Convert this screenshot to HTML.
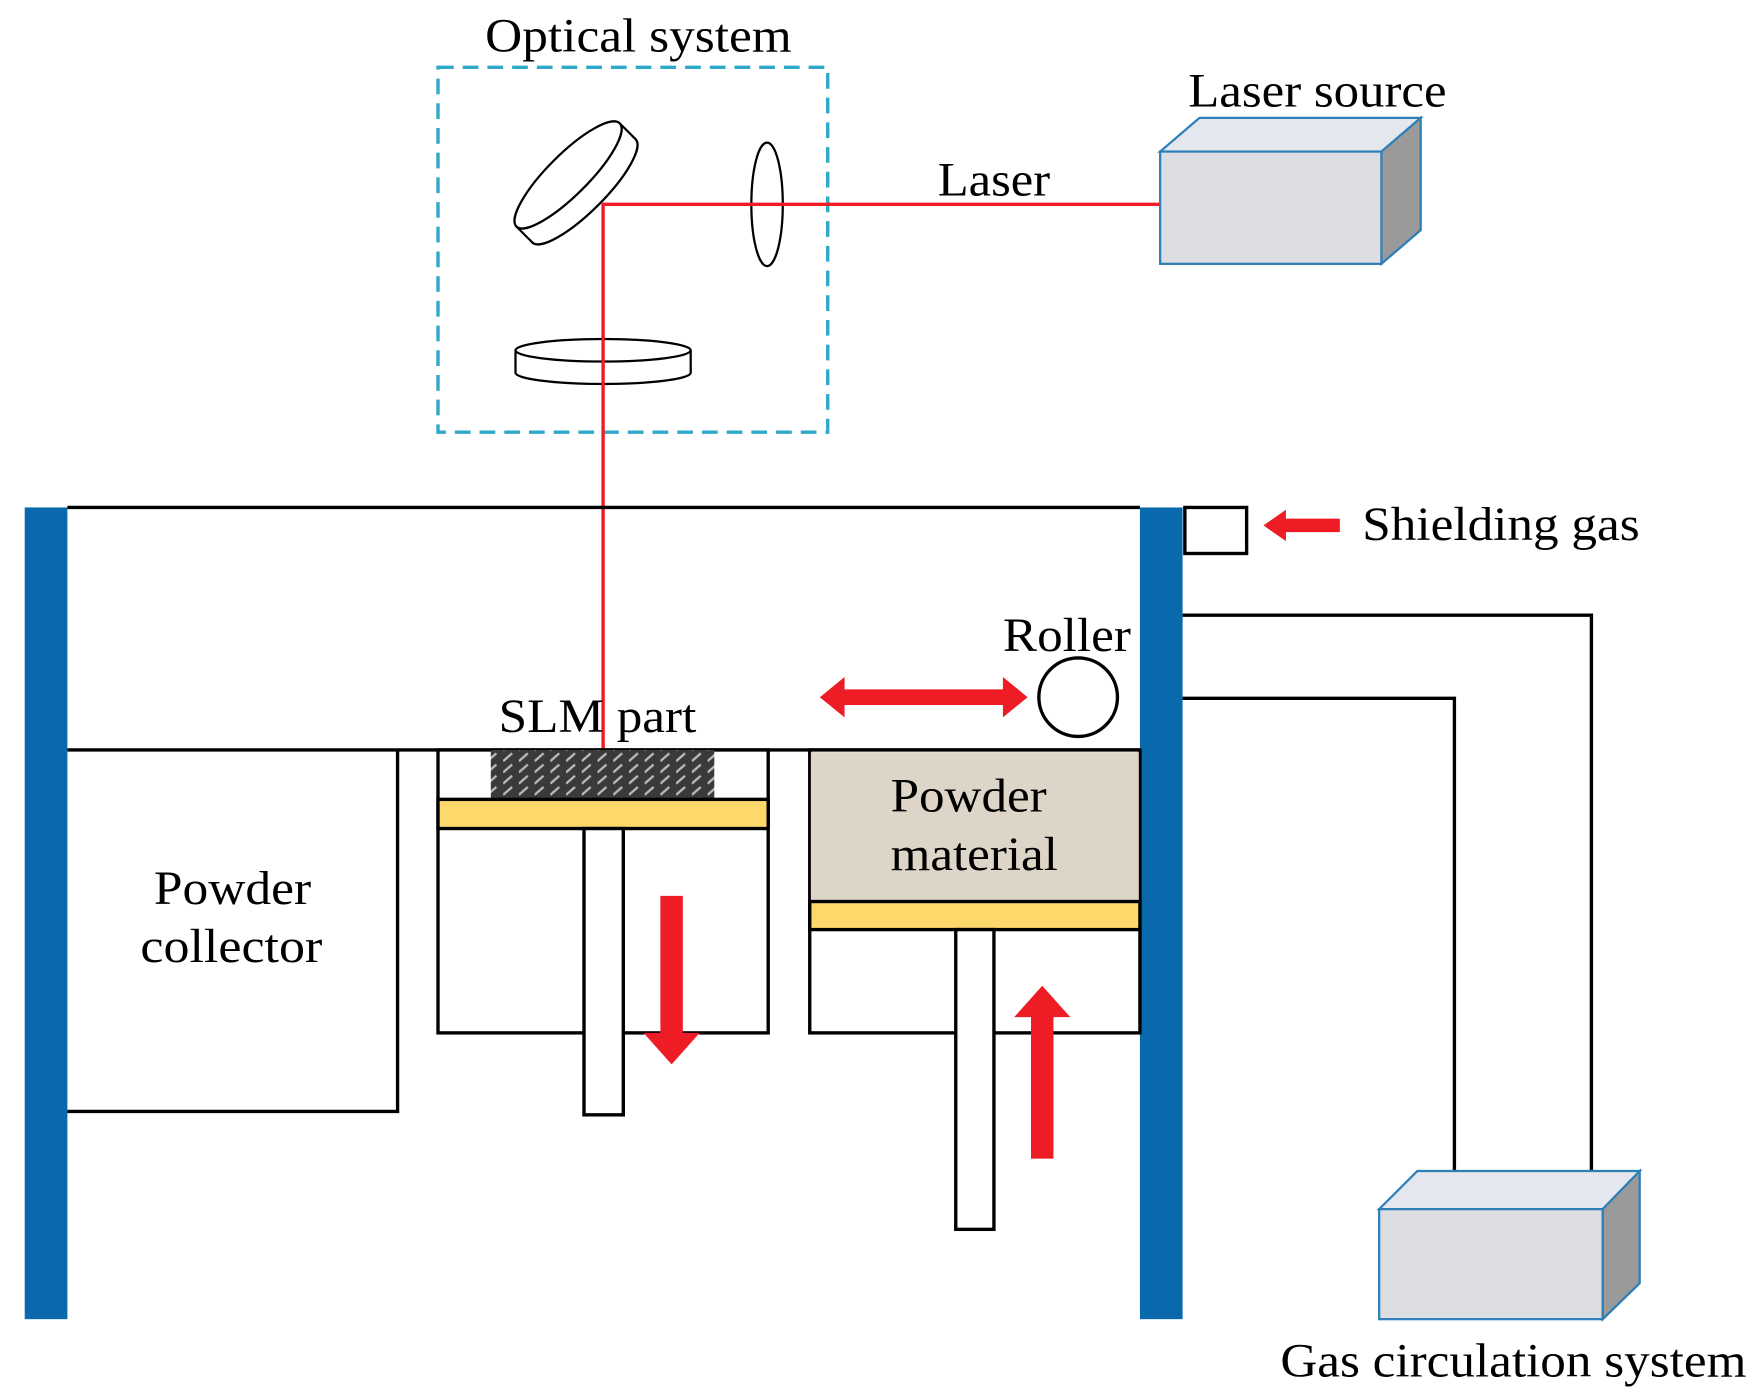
<!DOCTYPE html>
<html><head><meta charset="utf-8"><style>html,body{margin:0;padding:0;background:#fff}svg{display:block}</style></head>
<body>
<svg width="1761" height="1400" viewBox="0 0 1568 1247" preserveAspectRatio="none" xmlns="http://www.w3.org/2000/svg" font-family="Liberation Serif, serif" font-size="42">
<defs>
<pattern id="p" width="14" height="10" patternUnits="userSpaceOnUse">
<rect width="14" height="10" fill="#3a3a3a"/>
<path d="M0 8 L8 1" stroke="#bbb" stroke-width="2"/>
</pattern>
</defs>
<text x="432" y="46" textLength="273" lengthAdjust="spacingAndGlyphs">Optical system</text>
<rect x="390" y="60" width="347" height="325" fill="none" stroke="#2ea9c9" stroke-width="3" stroke-dasharray="14,8"/>
<!-- mirror -->
<g transform="rotate(-45 515 165)">
<rect x="450" y="152" width="130" height="20" fill="#fff" stroke="#000" stroke-width="2"/>
<ellipse cx="515" cy="172" rx="65" ry="18" fill="#fff" stroke="#000" stroke-width="2"/>
<rect x="451" y="153" width="128" height="19" fill="#fff"/>
<ellipse cx="515" cy="152" rx="65" ry="18" fill="#fff" stroke="#000" stroke-width="2"/>
</g>
<!-- lens -->
<ellipse cx="683" cy="182" rx="14" ry="55" fill="#fff" stroke="#000" stroke-width="2"/>
<!-- lower disk -->
<ellipse cx="537" cy="332" rx="78" ry="10" fill="#fff" stroke="#000" stroke-width="2"/>
<rect x="459" y="312" width="156" height="20" fill="#fff" stroke="none"/>
<line x1="459" y1="312" x2="459" y2="332" stroke="#000" stroke-width="2"/>
<line x1="615" y1="312" x2="615" y2="332" stroke="#000" stroke-width="2"/>
<ellipse cx="537" cy="312" rx="78" ry="10" fill="#fff" stroke="#000" stroke-width="2"/>
<!-- laser -->
<polyline points="1033,182 537,182 537,668" fill="none" stroke="#ee1c24" stroke-width="3"/>
<text x="835" y="174" textLength="100" lengthAdjust="spacingAndGlyphs">Laser</text>
<!-- laser source -->
<text x="1058" y="95" textLength="230" lengthAdjust="spacingAndGlyphs">Laser source</text>
<polygon points="1033,135 1068,105 1265,105 1230,135" fill="#e4e8ee" stroke="#2e7fb8" stroke-width="2"/>
<polygon points="1230,135 1265,105 1265,205 1230,235" fill="#9a9a9a" stroke="#2e7fb8" stroke-width="2"/>
<rect x="1033" y="135" width="197" height="100" fill="#dcdde0" stroke="#2e7fb8" stroke-width="2"/>
<!-- chamber -->
<line x1="60" y1="452" x2="1015" y2="452" stroke="#000" stroke-width="3"/>
<line x1="60" y1="668" x2="1015" y2="668" stroke="#000" stroke-width="3"/>
<rect x="22" y="452" width="38" height="723" fill="#0a69ad"/>
<rect x="1015" y="452" width="38" height="723" fill="#0a69ad"/>
<rect x="1055" y="452" width="55" height="41" fill="#fff" stroke="#000" stroke-width="3"/>
<polygon points="1125,468 1145,454 1145,462 1193,462 1193,474 1145,474 1145,482" fill="#ee1c24"/>
<text x="1213" y="481" textLength="247" lengthAdjust="spacingAndGlyphs">Shielding gas</text>
<polyline points="1053,548 1417,548 1417,1045" fill="none" stroke="#000" stroke-width="3"/>
<polyline points="1053,622 1295,622 1295,1077" fill="none" stroke="#000" stroke-width="3"/>
<!-- collector -->
<polyline points="60,990 354,990 354,668" fill="none" stroke="#000" stroke-width="3"/>
<text x="137" y="805" textLength="140" lengthAdjust="spacingAndGlyphs">Powder</text>
<text x="125" y="857" textLength="162" lengthAdjust="spacingAndGlyphs">collector</text>
<!-- build chamber -->
<rect x="390" y="668" width="294" height="252" fill="#fff" stroke="#000" stroke-width="3"/>
<rect x="437" y="668" width="199" height="44" fill="url(#p)"/>
<rect x="390" y="712" width="294" height="26" fill="#fdd86a" stroke="#000" stroke-width="3"/>
<rect x="520" y="738" width="35" height="255" fill="#fff" stroke="#000" stroke-width="3"/>
<polygon points="588,798 608,798 608,920 623,920 598,948 573,920 588,920" fill="#ee1c24"/>
<text x="444" y="652" textLength="176" lengthAdjust="spacingAndGlyphs">SLM part</text>
<!-- powder chamber -->
<rect x="721" y="668" width="294" height="252" fill="#fff" stroke="#000" stroke-width="3"/>
<rect x="722" y="670" width="292" height="133" fill="#ddd5c7"/>
<text x="793" y="723" textLength="139" lengthAdjust="spacingAndGlyphs">Powder</text>
<text x="793" y="775" textLength="149" lengthAdjust="spacingAndGlyphs">material</text>
<rect x="721" y="803" width="294" height="25" fill="#fdd86a" stroke="#000" stroke-width="3"/>
<rect x="851" y="828" width="34" height="267" fill="#fff" stroke="#000" stroke-width="3"/>
<polygon points="918,1032 938,1032 938,906 953,906 928,878 903,906 918,906" fill="#ee1c24"/>
<!-- roller -->
<circle cx="960" cy="621" r="35" fill="#fff" stroke="#000" stroke-width="3"/>
<text x="893" y="580" textLength="114" lengthAdjust="spacingAndGlyphs">Roller</text>
<polygon points="730,621 752,603 752,614 893,614 893,603 915,621 893,639 893,628 752,628 752,639" fill="#ee1c24"/>
<!-- gas circulation -->
<polygon points="1228,1077 1262,1043 1460,1043 1427,1077" fill="#e4e8ee" stroke="#2e7fb8" stroke-width="2"/>
<polygon points="1427,1077 1460,1043 1460,1143 1427,1175" fill="#9a9a9a" stroke="#2e7fb8" stroke-width="2"/>
<rect x="1228" y="1077" width="199" height="98" fill="#dcdde0" stroke="#2e7fb8" stroke-width="2"/>
<text x="1140" y="1226" textLength="415" lengthAdjust="spacingAndGlyphs">Gas circulation system</text>
</svg>
</body></html>
